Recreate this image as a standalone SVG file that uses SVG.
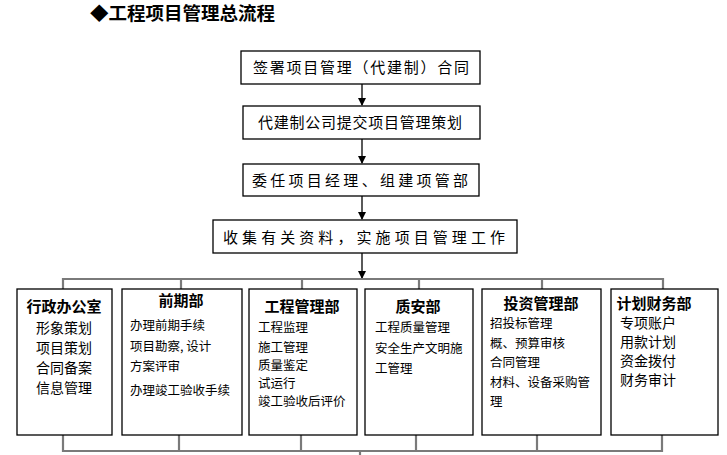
<svg xmlns="http://www.w3.org/2000/svg" width="727" height="455" viewBox="0 0 727 455">
<defs>
<marker id="ah" markerWidth="8" markerHeight="8" refX="7" refY="4" orient="auto" markerUnits="userSpaceOnUse">
<path d="M0,0 L8,4 L0,8 Z" fill="#000"/>
</marker>
<style>
.box{fill:#fff;stroke:#000;stroke-width:1.3}
.t{font-family:"Noto Sans CJK SC","Noto Sans CJK JP",sans-serif;fill:#000}
.main{font-size:15px}
.hd{font-size:15px;font-weight:bold;text-anchor:middle}
.it{font-size:12.5px}
.it2{font-size:14px}
.flow{stroke:#000;stroke-width:1.3;fill:none}
.bus{stroke:#7a7a7a;stroke-width:2.2;fill:none}
</style>
</defs>
<rect width="727" height="455" fill="#fff"/>
<text class="t" x="90" y="20" font-size="18" font-weight="bold" textLength="185" lengthAdjust="spacingAndGlyphs">◆工程项目管理总流程</text>

<g id="connectors">
<line class="flow" x1="362" y1="84" x2="362" y2="105" marker-end="url(#ah)"/>
<line class="flow" x1="362" y1="139" x2="362" y2="163" marker-end="url(#ah)"/>
<line class="flow" x1="362" y1="196" x2="362" y2="219" marker-end="url(#ah)"/>
<line class="flow" x1="362" y1="253" x2="362" y2="278" marker-end="url(#ah)"/>
<polyline class="bus" points="63,289 63,279 663,279 663,289"/>
<line class="bus" x1="181" y1="279" x2="181" y2="289"/>
<line class="bus" x1="302" y1="279" x2="302" y2="289"/>
<line class="bus" x1="419" y1="279" x2="419" y2="289"/>
<line class="bus" x1="542" y1="279" x2="542" y2="289"/>
<polyline class="bus" points="63,435 63,451 662,451 662,435"/>
<line class="bus" x1="179" y1="435" x2="179" y2="451"/>
<line class="bus" x1="301" y1="435" x2="301" y2="451"/>
<line class="bus" x1="416" y1="435" x2="416" y2="451"/>
<line class="bus" x1="537" y1="435" x2="537" y2="451"/>
<line class="bus" x1="360" y1="451" x2="360" y2="455"/>
</g>

<g id="n1"><rect class="box" x="241" y="51" width="239" height="33"/>
<text class="t main" x="253" y="73" textLength="216" lengthAdjust="spacing">签署项目管理（代建制）合同</text></g>
<g id="n2"><rect class="box" x="243" y="106" width="237" height="33"/>
<text class="t main" x="258" y="128" textLength="204" lengthAdjust="spacing">代建制公司提交项目管理策划</text></g>
<g id="n3"><rect class="box" x="243" y="164" width="236" height="32"/>
<text class="t main" x="252" y="186" font-size="16" textLength="216" lengthAdjust="spacing">委任项目经理、组建项管部</text></g>
<g id="n4"><rect class="box" x="213" y="220" width="304" height="33"/>
<text class="t main" x="223" y="243" font-size="17" textLength="282" lengthAdjust="spacing">收集有关资料，实施项目管理工作</text></g>

<g id="d1"><rect class="box" x="17" y="289" width="95" height="146"/>
<text class="t hd" x="64" y="312">行政办公室</text>
<text class="t it2" x="36" y="333">形象策划</text>
<text class="t it2" x="36" y="353">项目策划</text>
<text class="t it2" x="36" y="373">合同备案</text>
<text class="t it2" x="36" y="393">信息管理</text></g>

<g id="d2"><rect class="box" x="122" y="289" width="120" height="146"/>
<text class="t hd" x="181" y="306">前期部</text>
<text class="t it" x="130" y="330">办理前期手续</text>
<text class="t it" x="130" y="351">项目勘察, 设计</text>
<text class="t it" x="130" y="371">方案评审</text>
<text class="t it" x="130" y="395">办理竣工验收手续</text></g>

<g id="d3"><rect class="box" x="249" y="289" width="108" height="146"/>
<text class="t hd" x="302" y="312">工程管理部</text>
<text class="t it" x="258" y="332">工程监理</text>
<text class="t it" x="258" y="352">施工管理</text>
<text class="t it" x="258" y="370">质量鉴定</text>
<text class="t it" x="258" y="388">试运行</text>
<text class="t it" x="258" y="406">竣工验收后评价</text></g>

<g id="d4"><rect class="box" x="365" y="289" width="108" height="146"/>
<text class="t hd" x="418" y="312">质安部</text>
<text class="t it" x="375" y="332">工程质量管理</text>
<text class="t it" x="375" y="353">安全生产文明施</text>
<text class="t it" x="375" y="373">工管理</text></g>

<g id="d5"><rect class="box" x="482" y="289" width="119" height="146"/>
<text class="t hd" x="541" y="309">投资管理部</text>
<text class="t it" x="490" y="328">招投标管理</text>
<text class="t it" x="490" y="348">概、预算审核</text>
<text class="t it" x="490" y="367">合同管理</text>
<text class="t it" x="490" y="387">材料、设备采购管</text>
<text class="t it" x="490" y="406">理</text></g>

<g id="d6"><rect class="box" x="611" y="289" width="107" height="146"/>
<text class="t hd" x="654" y="309">计划财务部</text>
<text class="t it2" x="620" y="328">专项账户</text>
<text class="t it2" x="620" y="347">用款计划</text>
<text class="t it2" x="620" y="366">资金拨付</text>
<text class="t it2" x="620" y="385">财务审计</text></g>
</svg>
